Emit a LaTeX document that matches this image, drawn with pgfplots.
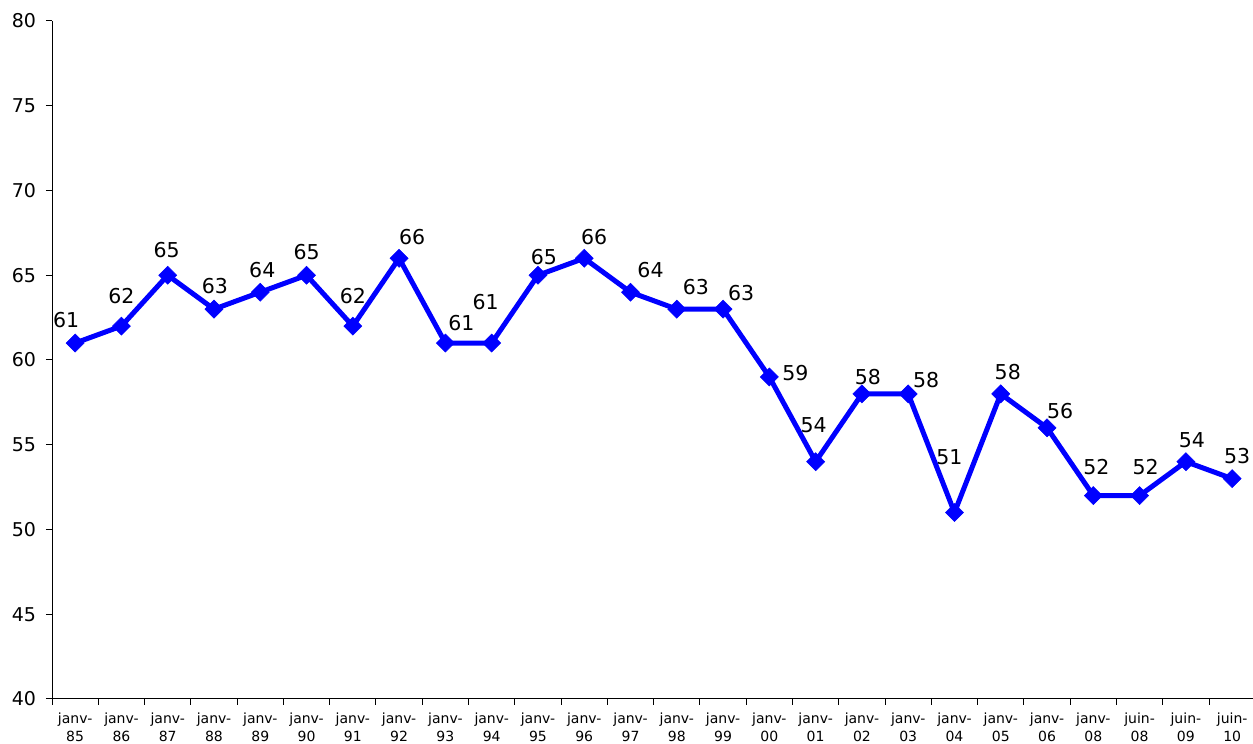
\documentclass[border=0pt]{standalone}
\usepackage{pgfplots}
\pgfplotsset{compat=1.18}
\usepackage{pgfplotstable}
\usepackage{fontspec}
\setmainfont{DejaVu Sans}
\definecolor{lineblue}{RGB}{0,0,255}
\pgfplotstableread{
x y dx dy
0 61 -9 23
1 62 0 30
2 65 -1 25
3 63 1 23
4 64 2 22
5 65 0 23
6 62 0 30
7 66 13 21
8 61 16 20
9 61 -6 41
10 65 6 18
11 66 10 21
12 64 20 22
13 63 19 22
14 63 18 16
15 59 26 4
16 54 -2 37
17 58 6 17
18 58 18 14
19 51 -5 55
20 58 7 22
21 56 13 17
22 52 3 29
23 52 6 29
24 54 6 22
25 53 5 23
}\datatable
\begin{document}
\begin{tikzpicture}[x=0.5pt,y=0.5pt]
\useasboundingbox (0,0) rectangle (1253,744);
\begin{axis}[
  at={(26pt,22.5pt)}, anchor=south west,
  scale only axis,
  width=601.65pt, height=339pt,
  xmin=-0.5, xmax=25.5,
  ymin=40, ymax=80,
  ytick={40,45,...,80},
  xtick={0,...,25},
  xticklabels={{janv-\\85},{janv-\\86},{janv-\\87},{janv-\\88},{janv-\\89},{janv-\\90},{janv-\\91},{janv-\\92},{janv-\\93},{janv-\\94},{janv-\\95},{janv-\\96},{janv-\\97},{janv-\\98},{janv-\\99},{janv-\\00},{janv-\\01},{janv-\\02},{janv-\\03},{janv-\\04},{janv-\\05},{janv-\\06},{janv-\\08},{juin-\\08},{juin-\\09},{juin-\\10}},
  minor xtick={-0.5,0.5,...,25.5},
  axis x line*=bottom, axis y line*=left,
  axis line style={line width=0.5pt, -},
  tick align=outside,
  major tick length=3pt, minor tick length=3pt,
  major x tick style={draw=none},
  minor x tick style={line width=0.5pt, black},
  major y tick style={line width=0.5pt, black},
  /pgf/number format/assume math mode=true,
  yticklabel style={font=\fontsize{9.5pt}{10pt}\selectfont, xshift=-1.5pt},
  xticklabel style={font=\fontsize{7pt}{9pt}\selectfont, align=center, yshift=-0.5pt},
  clip=false,
  visualization depends on={\thisrow{dx} \as \dx},
  visualization depends on={\thisrow{dy} \as \dy},
  nodes near coords,
  nodes near coords style={font=\fontsize{10.25pt}{11pt}\selectfont, text=black, anchor=center, xshift={(\dx)*0.5pt}, yshift={(\dy)*0.5pt}, inner sep=0pt},
]
\addplot[lineblue, line width=2.5pt, mark=diamond*, mark size=4.5pt, mark options={solid, line width=0.3pt, fill=lineblue, xscale=1.333}] table[x=x,y=y] {\datatable};
\end{axis}
\end{tikzpicture}
\end{document}
